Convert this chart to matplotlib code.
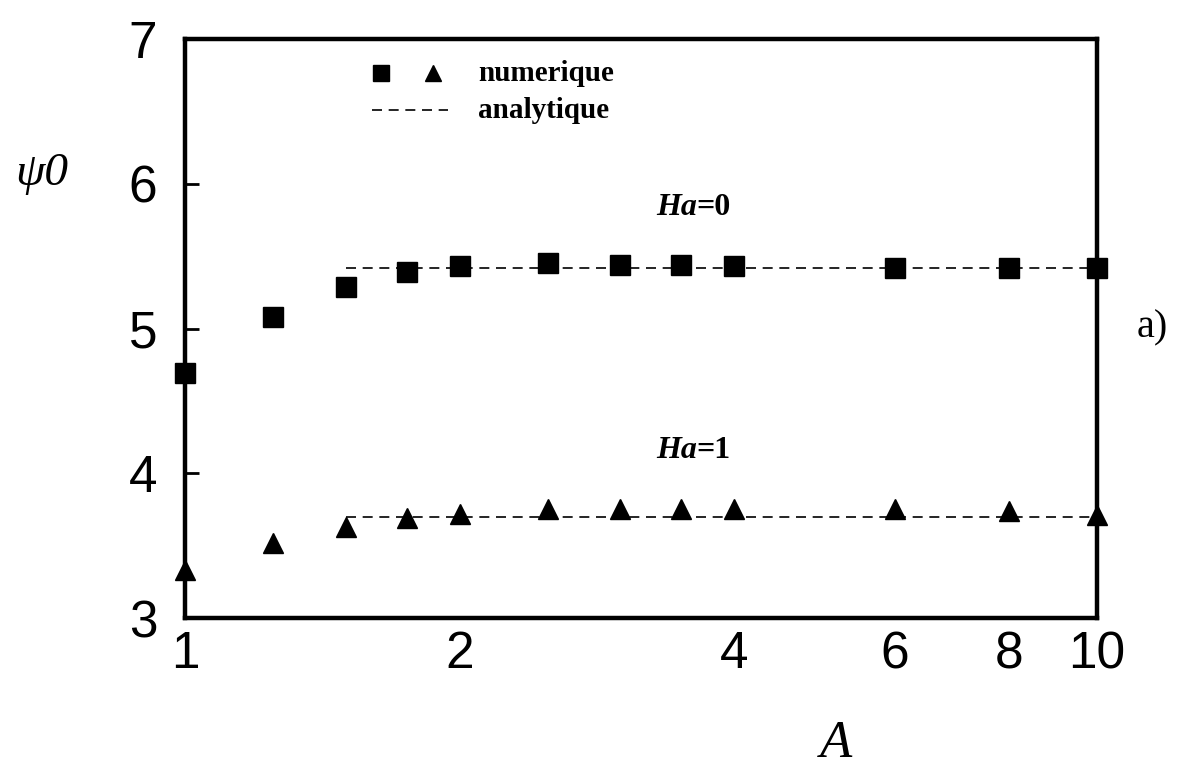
import matplotlib
matplotlib.use("Agg")
import matplotlib.pyplot as plt
import matplotlib.ticker as mticker

# Data
A_num = [1, 1.25, 1.5, 1.75, 2, 2.5, 3, 3.5, 4, 6, 8, 10]
psi_ha0 = [4.69, 5.08, 5.29, 5.39, 5.43, 5.45, 5.44, 5.44, 5.43, 5.42, 5.42, 5.42]
psi_ha1 = [3.33, 3.52, 3.63, 3.69, 3.72, 3.75, 3.75, 3.75, 3.75, 3.75, 3.74, 3.71]
A_ana = [1.5, 10]
ana_ha0 = [5.42, 5.42]
ana_ha1 = [3.70, 3.70]
xticks = [1, 2, 4, 6, 8, 10]
yticks = [3, 4, 5, 6, 7]

SERIF = "Liberation Serif"
SANS = "Liberation Sans"

fig = plt.figure(figsize=(11.82, 7.67), dpi=100)
ax = fig.add_axes([185 / 1182, 1 - 618 / 767, 912 / 1182, 579 / 767])
ax.set_xscale("log")
ax.set_xlim(1, 10)
ax.set_ylim(3, 7)

dash = (0, (6, 4))
ax.plot(A_ana, ana_ha0, color="black", lw=1.2, linestyle=dash, zorder=2)
ax.plot(A_ana, ana_ha1, color="black", lw=1.2, linestyle=dash, zorder=2)
ax.plot(A_num, psi_ha0, linestyle="none", marker="s", ms=14, color="black", clip_on=False, zorder=3)
ax.plot(A_num, psi_ha1, linestyle="none", marker="^", ms=15, color="black", clip_on=False, zorder=3)

for s in ax.spines.values():
    s.set_linewidth(3.2)

ax.set_xticks(xticks)
ax.set_xticklabels([str(t) for t in xticks])
ax.xaxis.set_minor_locator(mticker.NullLocator())
ax.set_yticks(yticks)
ax.set_yticklabels([str(t) for t in yticks])
ax.tick_params(axis="x", length=0, pad=9, labelsize=37)
ax.tick_params(axis="y", direction="in", length=10, width=2, pad=20, labelsize=37)
for lab in ax.get_xticklabels() + ax.get_yticklabels():
    lab.set_fontfamily(SANS)

# Legend (drawn manually like the original)
ax.plot([1.640], [6.764], marker="s", ms=11, color="black", clip_on=False)
ax.plot([1.870], [6.764], marker="^", ms=12, color="black", clip_on=False)
ax.text(2.096, 6.764, "numerique", fontfamily=SERIF, fontweight="bold",
        fontsize=21, va="center", ha="left")
ax.plot([1.603, 1.943], [6.508, 6.508], color="black", lw=1.2, linestyle=dash)
ax.text(2.096, 6.508, "analytique", fontfamily=SERIF, fontweight="bold",
        fontsize=21, va="center", ha="left")

# Curve labels
for yv, num in [(5.835, "0"), (4.16, "1")]:
    ax.text(3.64, yv, "Ha", fontfamily=SERIF, fontweight="bold", fontstyle="italic",
            fontsize=23, va="center", ha="right")
    ax.text(3.64, yv, "=" + num, fontfamily=SERIF, fontweight="bold",
            fontsize=23, va="center", ha="left")

fig.text(1152 / 1182, 1 - 328 / 767, "a)", fontfamily=SERIF, fontsize=29,
         ha="center", va="center")
fig.text(15 / 1182, 1 - 185 / 767, "\u03c80", fontfamily=SERIF, fontstyle="italic",
         fontsize=34, ha="left", va="baseline")
fig.text(836 / 1182, 1 - 757 / 767, "A", fontfamily=SERIF, fontstyle="italic",
         fontsize=38, ha="center", va="baseline")

fig.savefig("out.png", dpi=100)
